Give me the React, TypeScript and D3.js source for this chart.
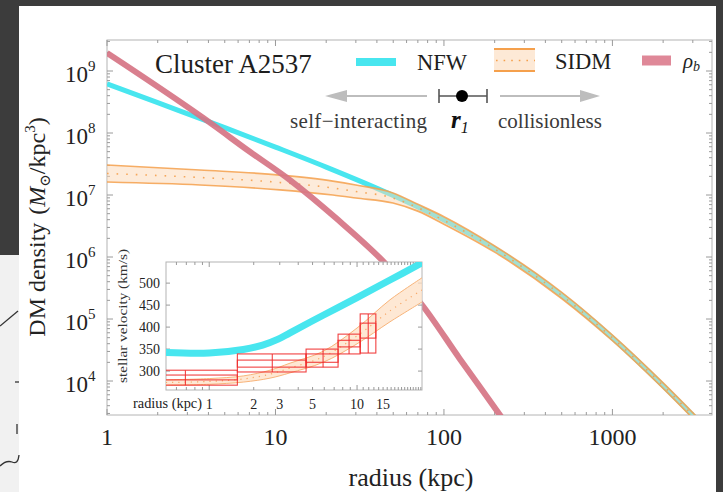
import React from 'react';
import * as d3 from 'd3';

const W = 723;
const H = 492;

// ---- main panel data (radius in kpc, density in Msun/kpc^3) ----
const nfwR = [1, 2, 5, 10, 20, 50, 100, 200, 500, 1000, 2000, 3000, 4000];
const nfwRho = [6.2e8, 3.08e8, 1.22e8, 5.92e7, 2.82e7, 9.8e6, 3.96e6, 1.37e6, 2.41e5, 4.96e4, 8.4e3, 2.79e3, 1.25e3];

const sidmR = [1, 3.56, 10.6, 21.9, 30, 49.8, 70, 100, 200, 500, 1000, 2000, 4000];
const sidmHi = [3.05e7, 2.53e7, 2.1e7, 1.68e7, 1.45e7, 1.08e7, 7.08e6, 4.47e6, 1.51e6, 2.69e5, 5.5e4, 9.33e3, 1.38e3];
const sidmLo = [1.62e7, 1.45e7, 1.21e7, 1.0e7, 8.95e6, 7.43e6, 5.5e6, 3.39e6, 1.2e6, 2.14e5, 4.47e4, 7.59e3, 1.12e3];

const rhoBR = [1, 4.26, 6.78, 12.2, 23.5, 42.9, 74, 124, 215, 260];
const rhoB = [1.95e9, 1.35e8, 5.37e7, 1.74e7, 3.98e6, 8.91e5, 1.7e5, 2.29e4, 2.82e3, 1.35e3];

const xTicks = [1, 10, 100, 1000];
const xTickLabels = ['1', '10', '100', '1000'];
const yTickExps = [4, 5, 6, 7, 8, 9];

// ---- inset data (radius in kpc, stellar velocity in km/s) ----
const inNfwR = [0.51, 1.0, 1.7, 2.3, 2.9, 3.52, 5.9, 10, 16.7, 27.5];
const inNfwV = [342, 341, 349, 359, 372, 387, 427, 467, 507, 546];

const inSidmR = [0.51, 1, 1.7, 2.58, 3.52, 5.9, 10, 16.7, 27.5];
const inSidmLo = [268, 270, 275, 284, 296, 320, 362, 412, 457];
const inSidmHi = [280, 283, 289, 302, 318, 345, 398, 462, 512];

const boxR0 = [0.4, 1.55, 4.52, 7.44, 10.5];
const boxR1 = [1.55, 4.52, 7.44, 10.5, 13.4];
const boxRc = [0.69, 2.67, 5.89, 8.83, 11.9];
const boxLo = [268, 298, 309, 339, 341];
const boxHi = [302, 339, 350, 384, 430];
const boxInLo = [280, 309, 320, 355, 375];
const boxInHi = [291, 325, 339, 370, 409];

const inXTicks = [1, 2, 3, 5, 10, 15];
const inYTicks = [300, 350, 400, 450, 500];

const SERIF = "'Liberation Serif', 'DejaVu Serif', serif";

export default function App() {
  // main scales
  const x = d3.scaleLog().domain([1, 3900]).range([107, 712]);
  const y = d3.scaleLog().domain([Math.pow(10, 3.452), Math.pow(10, 9.5)]).range([415, 40]);
  const [x0, x1] = x.range();
  const [y0, y1] = y.range();

  const line = d3
    .line<[number, number]>()
    .x((d) => x(d[0]))
    .y((d) => y(d[1]))
    .curve(d3.curveMonotoneX);

  const nfwPts = nfwR.map((r, i) => [r, nfwRho[i]] as [number, number]);
  const rhoBPts = rhoBR.map((r, i) => [r, rhoB[i]] as [number, number]);
  const sidmHiPts = sidmR.map((r, i) => [r, sidmHi[i]] as [number, number]);
  const sidmLoPts = sidmR.map((r, i) => [r, sidmLo[i]] as [number, number]);
  const sidmMidPts = sidmR.map((r, i) => [r, Math.sqrt(sidmHi[i] * sidmLo[i])] as [number, number]);

  const band = d3
    .area<number>()
    .x((i) => x(sidmR[i]))
    .y0((i) => y(sidmLo[i]))
    .y1((i) => y(sidmHi[i]))
    .curve(d3.curveMonotoneX);
  const idx = sidmR.map((_, i) => i);

  // main ticks
  const xMinor: number[] = [];
  [1, 10, 100, 1000].forEach((d) => {
    for (let k = 2; k <= 9; k++) {
      const v = k * d;
      if (v < 3900) xMinor.push(v);
    }
  });
  const yMinor: number[] = [];
  [3, 4, 5, 6, 7, 8, 9].forEach((e) => {
    for (let k = 2; k <= 9; k++) {
      const v = k * Math.pow(10, e);
      if (v > Math.pow(10, 3.452) && v < Math.pow(10, 9.5)) yMinor.push(v);
    }
  });

  // inset scales
  const ix = d3.scaleLog().domain([0.51, 27.5]).range([166, 422]);
  const iy = d3.scaleLinear().domain([257, 548]).range([390, 262]);
  const [ix0, ix1] = ix.range();
  const [iy0, iy1] = iy.range();
  const iline = d3
    .line<[number, number]>()
    .x((d) => ix(d[0]))
    .y((d) => iy(d[1]))
    .curve(d3.curveCatmullRom.alpha(0.5));
  const inNfwPts = inNfwR.map((r, i) => [r, inNfwV[i]] as [number, number]);
  const iband = d3
    .area<number>()
    .x((i) => ix(inSidmR[i]))
    .y0((i) => iy(inSidmLo[i]))
    .y1((i) => iy(inSidmHi[i]))
    .curve(d3.curveCatmullRom.alpha(0.5));
  const iidx = inSidmR.map((_, i) => i);
  const inLoPts = inSidmR.map((r, i) => [r, inSidmLo[i]] as [number, number]);
  const inHiPts = inSidmR.map((r, i) => [r, inSidmHi[i]] as [number, number]);
  const inMidPts = inSidmR.map((r, i) => [r, (inSidmLo[i] + inSidmHi[i]) / 2] as [number, number]);
  const inXMinor: number[] = [];
  for (let k = 1; k <= 27; k++) inXMinor.push(k);
  for (let k = 6; k <= 9; k++) inXMinor.push(k / 10);

  const frame = '#b4b4b4';
  const tick = '#9a9a9a';
  const cyan = '#48e6ef';
  const orange = '#f5a04c';
  const pink = '#d67484';

  return (
    <svg
      width={W}
      height={H}
      viewBox={`0 0 ${W} ${H}`}
      style={{ position: 'fixed', left: 0, top: 0, background: '#fff' }}
      fontFamily={SERIF}
    >
      <defs>
        <clipPath id="mainClip">
          <rect x={x0} y={y1} width={x1 - x0} height={y0 - y1} />
        </clipPath>
        <clipPath id="insetClip">
          <rect x={ix0} y={iy1} width={ix1 - ix0} height={iy0 - iy1} />
        </clipPath>
      </defs>

      {/* screenshot surroundings */}
      <rect x={0} y={0} width={W} height={H} fill="#ffffff" />
      <rect x={0} y={0} width={W} height={6} fill="#3c3c3c" />
      <rect x={0} y={0} width={19} height={255} fill="#3c3c3c" />
      <rect x={0} y={255} width={19} height={H - 255} fill="#f1f1f1" />
      <rect x={716} y={0} width={7} height={H} fill="#3c3c3c" />
      <g stroke="#333" strokeWidth={1.3} fill="none">
        <path d="M0,326 L18,311" />
        <path d="M15,382 L19,382" />
        <path d="M17,424 L17,434" />
        <path d="M0,466 Q6,460 12,462 Q18,465 19,455" />
      </g>

      {/* main frame */}
      <rect x={x0} y={y1} width={x1 - x0} height={y0 - y1} fill="none" stroke={frame} strokeWidth={1} />
      <g stroke={tick} strokeWidth={1}>
        {xTicks.map((v) => (
          <g key={'xt' + v}>
            <line x1={x(v)} x2={x(v)} y1={y0} y2={y0 - 6} />
            <line x1={x(v)} x2={x(v)} y1={y1} y2={y1 + 6} />
          </g>
        ))}
        {xMinor.map((v) => (
          <g key={'xm' + v}>
            <line x1={x(v)} x2={x(v)} y1={y0} y2={y0 - 3} />
            <line x1={x(v)} x2={x(v)} y1={y1} y2={y1 + 3} />
          </g>
        ))}
        {yTickExps.map((e) => (
          <g key={'yt' + e}>
            <line x1={x0} x2={x0 + 6} y1={y(Math.pow(10, e))} y2={y(Math.pow(10, e))} />
            <line x1={x1} x2={x1 - 6} y1={y(Math.pow(10, e))} y2={y(Math.pow(10, e))} />
          </g>
        ))}
        {yMinor.map((v) => (
          <g key={'ym' + v}>
            <line x1={x0} x2={x0 + 3} y1={y(v)} y2={y(v)} />
            <line x1={x1} x2={x1 - 3} y1={y(v)} y2={y(v)} />
          </g>
        ))}
      </g>

      {/* main curves */}
      <g clipPath="url(#mainClip)">
        <path d={line(nfwPts) || ''} fill="none" stroke={cyan} strokeWidth={5} />
        <path d={band(idx) || ''} fill="#fcd8b6" fillOpacity={0.5} stroke="none" />
        <path d={line(sidmHiPts) || ''} fill="none" stroke={orange} strokeWidth={1.7} strokeOpacity={0.85} />
        <path d={line(sidmLoPts) || ''} fill="none" stroke={orange} strokeWidth={1.7} strokeOpacity={0.85} />
        <path
          d={line(sidmMidPts) || ''}
          fill="none"
          stroke={orange}
          strokeWidth={1.6}
          strokeDasharray="1.6 8"
          strokeOpacity={0.9}
        />
        <path d={line(rhoBPts) || ''} fill="none" stroke={pink} strokeWidth={6} strokeOpacity={0.92} />
      </g>

      {/* tick labels */}
      <g fontSize={24} fill="#222" textAnchor="middle">
        {xTicks.map((v, i) => (
          <text key={'xl' + v} x={x(v)} y={445}>
            {xTickLabels[i]}
          </text>
        ))}
      </g>
      <g fill="#222">
        {yTickExps.map((e) => (
          <text key={'yl' + e} x={65} y={y(Math.pow(10, e)) + 11} fontSize={23}>
            10
            <tspan fontSize={15} dy={-11}>
              {String(e)}
            </tspan>
          </text>
        ))}
      </g>
      <text x={411} y={486} fontSize={26} fill="#222" textAnchor="middle">
        radius (kpc)
      </text>
      <text transform="translate(45,227) rotate(-90)" fontSize={24} fill="#222" textAnchor="middle">
        DM density
        <tspan dx={8}>(</tspan>
        <tspan fontStyle="italic">M</tspan>
        <tspan fontSize={15} dy={5}>⊙</tspan>
        <tspan dy={-5}>/kpc</tspan>
        <tspan fontSize={15} dy={-10}>3</tspan>
        <tspan dy={10}>)</tspan>
      </text>

      {/* legend row 1 */}
      <text x={155} y={73} fontSize={27} fill="#1e1e1e">
        Cluster A2537
      </text>
      <line x1={356} x2={396} y1={62} y2={62} stroke={cyan} strokeWidth={8} />
      <text x={417} y={70} fontSize={22.5} fill="#1e1e1e">
        NFW
      </text>
      <rect x={494} y={49} width={41} height={22} fill="#fde4cc" fillOpacity={0.8} />
      <line x1={494} x2={535} y1={49} y2={49} stroke={orange} strokeWidth={2} />
      <line x1={494} x2={535} y1={71} y2={71} stroke={orange} strokeWidth={2} />
      <line x1={496} x2={535} y1={60.5} y2={60.5} stroke={orange} strokeWidth={1.6} strokeDasharray="1.6 6" />
      <text x={555} y={69} fontSize={22.5} fill="#1e1e1e">
        SIDM
      </text>
      <line x1={642} x2={671} y1={60.5} y2={60.5} stroke="#df8898" strokeWidth={10} />
      <text x={683} y={68} fontSize={21} fill="#1e1e1e" fontStyle="italic">
        ρ
        <tspan fontSize={14} dy={3}>
          b
        </tspan>
      </text>

      {/* legend row 2: arrows + r1 */}
      <line x1={344} x2={427} y1={96} y2={96} stroke="#bdbdbd" strokeWidth={2} />
      <polygon points="325,96 347,90 347,102" fill="#bdbdbd" />
      <line x1={500} x2={582} y1={96} y2={96} stroke="#bdbdbd" strokeWidth={2} />
      <polygon points="600,96 580,90 580,102" fill="#bdbdbd" />
      <line x1={439} x2={487} y1={96} y2={96} stroke="#555" strokeWidth={1.6} />
      <line x1={439} x2={439} y1={89} y2={103} stroke="#555" strokeWidth={1.6} />
      <line x1={487} x2={487} y1={89} y2={103} stroke="#555" strokeWidth={1.6} />
      <circle cx={462} cy={96} r={6} fill="#000" />

      {/* legend row 3 */}
      <text x={290} y={128} fontSize={21} fill="#3a3a3a" textLength={137} lengthAdjust="spacing">
        self−interacting
      </text>
      <text x={451} y={128} fontSize={25} fill="#111" fontStyle="italic" fontWeight="bold">
        r
        <tspan fontSize={16} dy={5} fontWeight="normal">
          1
        </tspan>
      </text>
      <text x={498} y={128} fontSize={21} fill="#3a3a3a">
        collisionless
      </text>

      {/* ---- inset ---- */}
      <rect x={ix0} y={iy1} width={ix1 - ix0} height={iy0 - iy1} fill="#fff" stroke={frame} strokeWidth={1} />
      <g stroke={tick} strokeWidth={1}>
        {inXMinor.map((v) => {
          const big = v === 1 || v === 10;
          return (
            <g key={'ixm' + v}>
              <line x1={ix(v)} x2={ix(v)} y1={iy0} y2={iy0 - (big ? 5 : 3)} />
              <line x1={ix(v)} x2={ix(v)} y1={iy1} y2={iy1 + (big ? 5 : 3)} />
            </g>
          );
        })}
        {inYTicks.map((v) => (
          <g key={'iyt' + v}>
            <line x1={ix0} x2={ix0 + 4} y1={iy(v)} y2={iy(v)} />
            <line x1={ix1} x2={ix1 - 4} y1={iy(v)} y2={iy(v)} />
          </g>
        ))}
      </g>
      <g clipPath="url(#insetClip)">
        <path d={iband(iidx) || ''} fill="#fde0c6" fillOpacity={0.75} stroke="none" />
        <path d={iline(inLoPts) || ''} fill="none" stroke="#f8b47a" strokeWidth={1} />
        <path d={iline(inHiPts) || ''} fill="none" stroke="#f8b47a" strokeWidth={1} />
        <path d={iline(inMidPts) || ''} fill="none" stroke="#f8a868" strokeWidth={1.2} strokeDasharray="1.2 5" />
        <path d={iline(inNfwPts) || ''} fill="none" stroke={cyan} strokeWidth={7} />
        <g stroke="#f02c2c" strokeWidth={1.1} fill="none" strokeOpacity={0.9}>
          {boxR0.map((r0, i) => (
            <g key={'box' + i}>
              <rect
                x={ix(r0)}
                y={iy(boxHi[i])}
                width={ix(boxR1[i]) - ix(r0)}
                height={iy(boxLo[i]) - iy(boxHi[i])}
              />
              <rect
                x={ix(r0)}
                y={iy(boxInHi[i])}
                width={ix(boxR1[i]) - ix(r0)}
                height={iy(boxInLo[i]) - iy(boxInHi[i])}
              />
              <line x1={ix(boxRc[i])} x2={ix(boxRc[i])} y1={iy(boxLo[i])} y2={iy(boxHi[i])} />
            </g>
          ))}
        </g>
      </g>
      <g fontSize={14} fill="#222" textAnchor="end">
        {inYTicks.map((v) => (
          <text key={'iyl' + v} x={160} y={iy(v) + 5}>
            {String(v)}
          </text>
        ))}
      </g>
      <g fontSize={14} fill="#222" textAnchor="middle">
        {inXTicks.map((v) => (
          <text key={'ixl' + v} x={ix(v)} y={409}>
            {String(v)}
          </text>
        ))}
      </g>
      <text x={133} y={408} fontSize={14} fill="#222" textLength={69} lengthAdjust="spacingAndGlyphs">
        radius (kpc)
      </text>
      <text
        transform="translate(127,316) rotate(-90)"
        fontSize={13}
        fill="#333"
        textAnchor="middle"
        textLength={134}
        lengthAdjust="spacingAndGlyphs"
      >
        stellar velocity (km/s)
      </text>
    </svg>
  );
}
